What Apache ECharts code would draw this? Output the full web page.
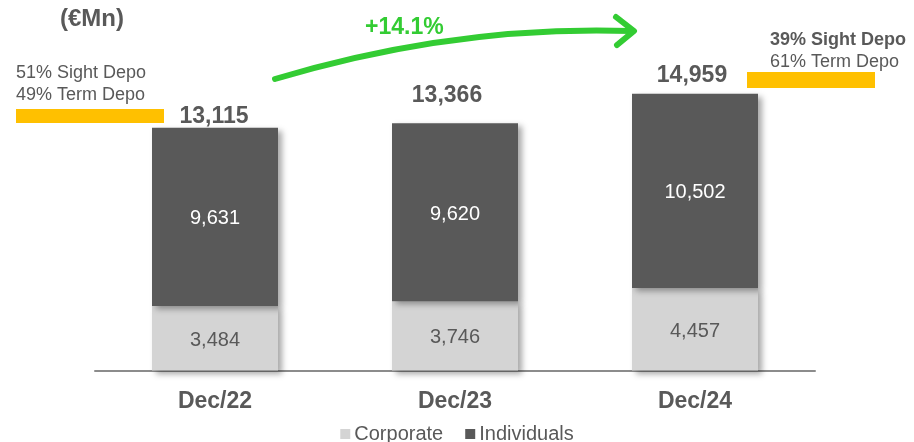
<!DOCTYPE html>
<html><head><meta charset="utf-8">
<script src="https://cdn.jsdelivr.net/npm/echarts@6/dist/echarts.min.js"></script>
<style>html,body{margin:0;padding:0;background:#fff}#c{width:914px;height:442px}</style>
</head><body><div id="c"></div>
<script>
const categories = ['Dec/22', 'Dec/23', 'Dec/24'];
const corporate = [3484, 3746, 4457];
const individuals = [9631, 9620, 10502];
const totals = [13115, 13366, 14959];
const seriesNames = ['Corporate', 'Individuals'];

const FONT = '"Liberation Sans", Arial, sans-serif';
const GREY = '#595959';
const fmt = v => v.toLocaleString('en-US');
const shadow = {shadowBlur: 6, shadowOffsetX: 4, shadowOffsetY: 3, shadowColor: 'rgba(0,0,0,0.35)'};
const totalLabelTweaks = [{d: 0, x: -1}, {d: 16, x: -8}, {d: 7, x: -3}];

const chart = echarts.init(document.getElementById('c'));
chart.setOption({
  animation: false,
  textStyle: {fontFamily: FONT},
  grid: {left: 95, width: 720, top: 0.5, bottom: 71.5},
  xAxis: {
    type: 'category', data: categories,
    axisLine: {lineStyle: {color: '#8c8c8c', width: 2}},
    axisTick: {show: false},
    axisLabel: {color: GREY, fontWeight: 'bold', fontSize: 23, fontFamily: FONT, margin: 20}
  },
  yAxis: {type: 'value', min: 0, max: 20000, show: false, splitLine: {show: false}},
  legend: {
    data: seriesNames, bottom: -7, left: 'center',
    itemWidth: 10, itemHeight: 10, itemGap: 22, icon: 'rect',
    textStyle: {color: GREY, fontSize: 20, fontFamily: FONT, padding: [0, 0, 0, -1]}
  },
  series: [
    {
      name: seriesNames[0], type: 'bar', stack: 's', data: corporate, barWidth: 126,
      itemStyle: Object.assign({color: '#D4D4D4'}, shadow),
      label: {show: true, position: 'inside', offset: [0, 2], color: GREY, fontSize: 20, fontFamily: FONT, formatter: p => fmt(p.value)}
    },
    {
      name: seriesNames[1], type: 'bar', stack: 's', data: individuals, barWidth: 126,
      itemStyle: Object.assign({color: '#595959'}, shadow),
      label: {show: true, position: 'inside', offset: [0, 2], color: '#ffffff', fontSize: 20, fontFamily: FONT, formatter: p => fmt(p.value)}
    },
    {
      name: 'Total', type: 'bar', data: totals.map((v, i) => ({
        value: v,
        label: {distance: totalLabelTweaks[i].d, offset: [totalLabelTweaks[i].x, 0]}
      })),
      barWidth: 126, barGap: '-100%', z: 1,
      itemStyle: {color: 'rgba(0,0,0,0)'},
      label: {show: true, position: 'top', color: GREY, fontWeight: 'bold', fontSize: 23, fontFamily: FONT, formatter: p => fmt(p.value)},
      silent: true
    }
  ],
  graphic: [
    {type: 'text', left: 60, top: 7, style: {text: '(€Mn)', fill: GREY, font: 'bold 24px ' + FONT}},
    {type: 'text', left: 16, top: 62, style: {text: '51% Sight Depo\n49% Term Depo', fill: GREY, font: '18px ' + FONT, lineHeight: 22}},
    {type: 'rect', shape: {x: 16, y: 109, width: 148, height: 14}, style: {fill: '#FFC000'}},
    {type: 'text', left: 770, top: 31, style: {text: '{b|39% Sight Depo}\n{r|61% Term Depo}', rich: {b: {fill: GREY, font: 'bold 18px ' + FONT, lineHeight: 22}, r: {fill: GREY, font: '18px ' + FONT, lineHeight: 22}}}},
    {type: 'rect', shape: {x: 747, y: 72, width: 128, height: 16}, style: {fill: '#FFC000'}},
    {type: 'bezierCurve', shape: {x1: 275, y1: 79, x2: 632, y2: 31, cpx1: 454, cpy1: 25}, style: {stroke: '#33CC33', lineWidth: 6, fill: null, lineCap: 'round'}},
    {type: 'polyline', shape: {points: [[616, 17], [634, 31], [617, 45]]}, style: {stroke: '#33CC33', lineWidth: 6, fill: null, lineCap: 'round', lineJoin: 'round'}},
    {type: 'text', left: 365, top: 16, style: {text: '+14.1%', fill: '#33CC33', font: 'bold 23px ' + FONT}}
  ]
});
</script></body></html>
